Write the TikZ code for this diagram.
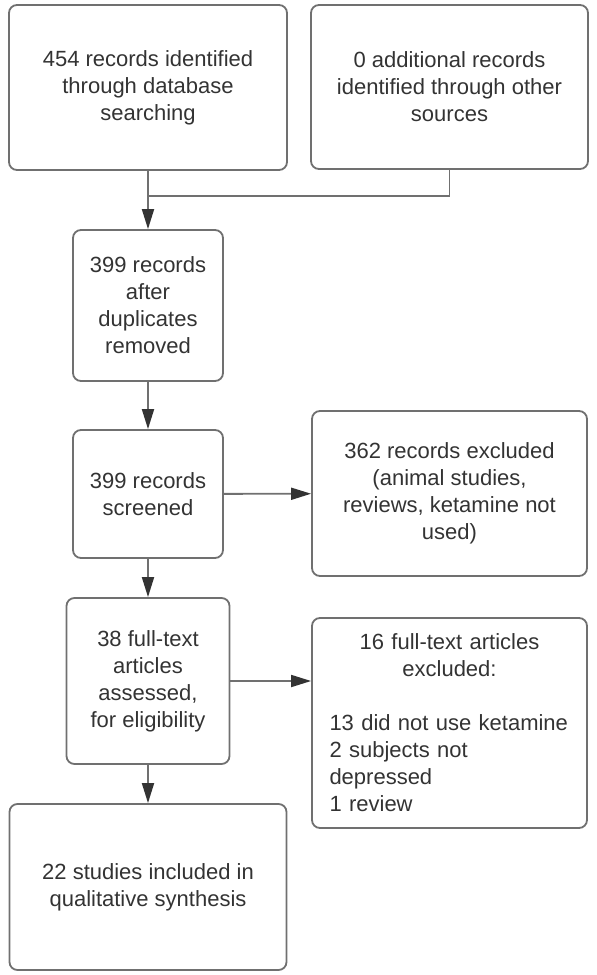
\documentclass[tikz,border=0pt]{standalone}
\usepackage{fontspec}
\setmainfont{Liberation Sans}
\usepackage{xcolor}
\usepackage{tikz}
\usetikzlibrary{arrows.meta}
\definecolor{boxline}{HTML}{707070}
\definecolor{boxtext}{HTML}{333333}
\tikzset{
	stage/.style = {draw=boxline, line width=1.8pt, rounded corners=8pt, align=center, inner sep=0pt, text=boxtext, font=\fontsize{22}{27}\selectfont},
	flow/.style = {draw=boxline, line width=1.8pt, -{Triangle[length=20pt,width=12pt,color=boxtext,fill=boxtext]}},
}

\begin{document}
\begin{tikzpicture}[x=1pt, y=-1pt]
	\useasboundingbox (0,0) rectangle (597,975);
	\node[stage, minimum width=278pt, minimum height=165pt](db) at (148,87.5) {454 records identified\\through database\\searching};
	\node[stage, minimum width=277pt, minimum height=164pt](other) at (449.5,87) {0 additional records\\identified through other\\sources};
	\node[stage, minimum width=150pt, minimum height=151pt](dedup) at (148,305.5) {399 records\\after\\duplicates\\removed};
	\node[stage, minimum width=150pt, minimum height=128pt](screen) at (148,494) {399 records\\screened};
	\node[stage, minimum width=275pt, minimum height=165pt](excl1) at (449.5,493.5) {362 records excluded\\(animal studies,\\reviews, ketamine not\\used)};
	\node[stage, minimum width=163pt, minimum height=166pt](full) at (148,681) {38 full-text\\articles\\assessed,\\for eligibility};
	\node[stage, minimum width=275pt, minimum height=210pt, text width=240pt, align=left](excl2) at (449.5,723) {\centering 16 full-text articles\\excluded:\par\raggedright\vspace{27pt}13 did not use ketamine\\2 subjects not\\depressed\\1 review};
	\node[stage, minimum width=277pt, minimum height=166pt](incl) at (148,887) {22 studies included in\\qualitative synthesis};
	\coordinate (merge) at (148,196);

	\draw[draw=boxline, line width=1.8pt] (db.south) -- (merge);
	\draw[draw=boxline, line width=1.8pt] (other.south) |- (merge);
	\draw[flow] (merge) -- (dedup.north);
	\draw[flow] (dedup) -- (screen);
	\draw[flow] (screen) -- (excl1);
	\draw[flow] (screen) -- (full);
	\draw[flow] (full.east) -- (excl2.west |- full.east);
	\draw[flow] (full) -- (incl);
\end{tikzpicture}
\end{document}
